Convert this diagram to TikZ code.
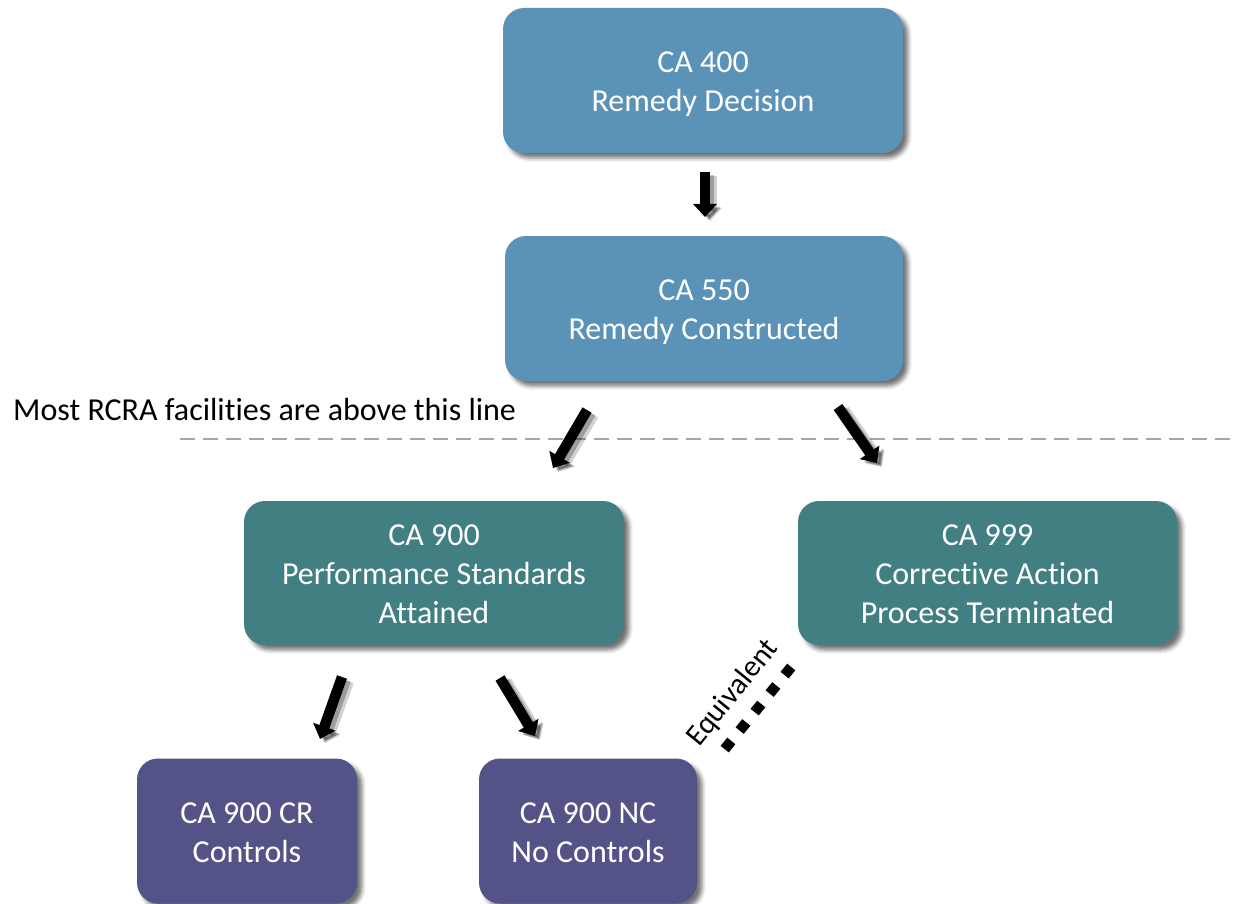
\documentclass[tikz,border=0pt]{standalone}
\usepackage{fontspec}
\setmainfont[Ligatures=NoCommon]{Carlito}
\usetikzlibrary{arrows.meta,shadows.blur}

\definecolor{stepblue}{HTML}{5B93B8}
\definecolor{stepteal}{HTML}{427F83}
\definecolor{steppurple}{HTML}{545388}

% centred lines of a box label, set a little below the geometric centre
\newcommand\boxlines[1]{\raisebox{-4pt}[\height][\depth]{\begin{tabular}{@{}c@{}}#1\end{tabular}}}

\tikzset{
  box/.style={rounded corners=21pt, draw=none, text=white,
    inner sep=0pt, minimum height=145pt,
    font=\fontsize{32}{39}\selectfont,
    blur shadow={shadow xshift=5pt, shadow yshift=-5pt,
      shadow blur radius=4pt, shadow opacity=55}},
  bluebox/.style={box, fill=stepblue},
  tealbox/.style={box, fill=stepteal},
  purplebox/.style={box, fill=steppurple},
  flow/.style={line width=10.5pt, black,
    -{Triangle[width=23pt,length=13pt]},
    preaction={draw=black, opacity=0.18, line width=14pt,
      transform canvas={shift={(5pt,-4pt)}}},
    preaction={draw=black, opacity=0.25, line width=10pt,
      transform canvas={shift={(4pt,-3pt)}}}},
  divider/.style={draw=black!35, line width=1.5pt, dash pattern=on 15pt off 8pt},
  note/.style={font=\fontsize{32}{38}\selectfont, text=black, inner sep=0pt},
  equiv/.style={line width=10.5pt, dash pattern=on 10.5pt off 13.3pt, black}
}

\begin{document}
\begin{tikzpicture}[x=1pt, y=-1pt]
  \useasboundingbox (0,0) rectangle (1236,904);

  % process steps
  \node[bluebox, minimum width=400pt] (n400) at (703,80.5)
    {\boxlines{CA 400\\Remedy Decision}};
  \node[bluebox, minimum width=398pt] (n550) at (704,308.5)
    {\boxlines{CA 550\\Remedy Constructed}};
  \node[tealbox, minimum width=380pt, minimum height=144pt] (n900) at (434,573)
    {\boxlines{CA 900\\Performance Standards\\Attained}};
  \node[tealbox, minimum width=379pt, minimum height=144pt] (n999) at (987.5,573)
    {\boxlines{CA 999\\Corrective Action\\Process Terminated}};
  \node[purplebox, minimum width=220pt] (ncr) at (247,831)
    {\boxlines{CA 900 CR\\Controls}};
  \node[purplebox, minimum width=218pt] (nnc) at (588,831)
    {\boxlines{CA 900 NC\\No Controls}};

  % divider between the two tiers
  \coordinate (divL) at (180,439);
  \coordinate (divR) at (1236,439);
  \draw[divider] (divL) -- (divR);
  \node[note, anchor=base west] (lbl) at (13,420) {Most RCRA facilities are above this line};

  % arrow end points
  \coordinate (a1s) at (705,172);  \coordinate (a1e) at (705,217);
  \coordinate (a2s) at (587,410);  \coordinate (a2e) at (553,468);
  \coordinate (a3s) at (838,407);  \coordinate (a3e) at (877,463);
  \coordinate (a4s) at (342,677);  \coordinate (a4e) at (320,739);
  \coordinate (a5s) at (500,678);  \coordinate (a5e) at (535,736);

  \draw[flow] (a1s) -- (a1e);
  \draw[flow] (a2s) -- (a2e);
  \draw[flow] (a3s) -- (a3e);
  \draw[flow] (a4s) -- (a4e);
  \draw[flow] (a5s) -- (a5e);

  % equivalence between CA 900 NC and CA 999
  \coordinate (q1) at (724.7,749.1);
  \coordinate (q2) at (791.3,666.9);
  \draw[equiv] (q1) -- (q2);
  \node[note, font=\fontsize{30}{34}\selectfont, rotate=51] (eq) at (733,693) {Equivalent};
\end{tikzpicture}
\end{document}
